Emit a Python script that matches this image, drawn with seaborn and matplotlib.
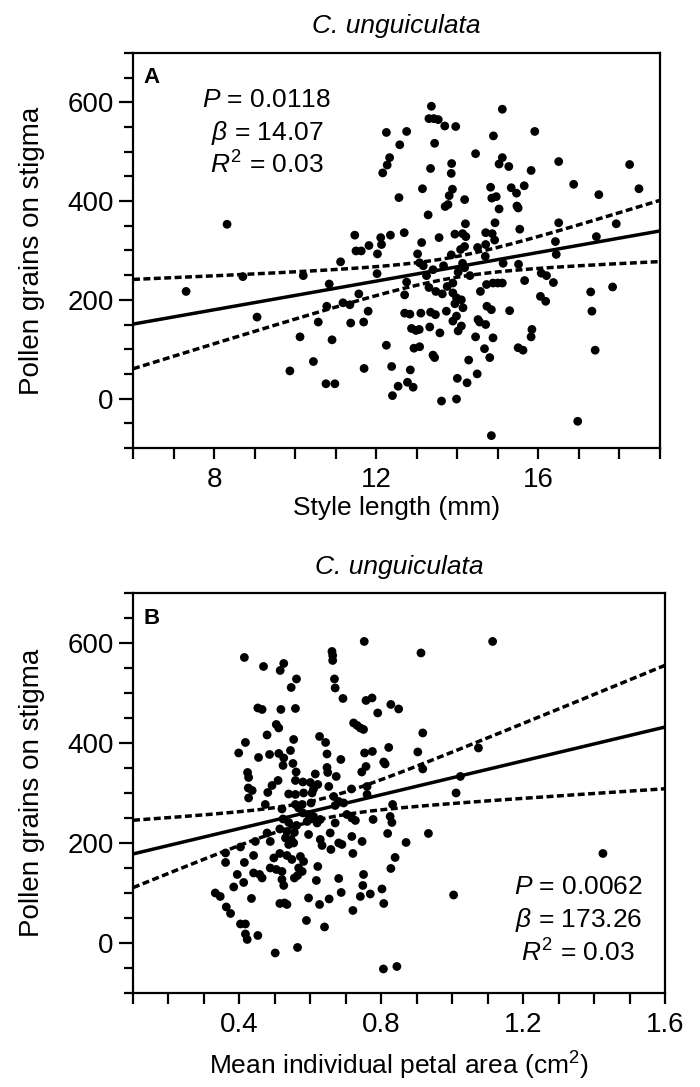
import numpy as np
import matplotlib.pyplot as plt
import seaborn as sns

# panel A: style length (mm) vs pollen grains on stigma
style_len = [13.36, 15.11, 13.30, 13.42, 13.53, 13.69, 13.96, 12.25, 12.75, 15.91,
             14.89, 12.58, 13.44, 14.45, 12.33, 12.27, 12.16, 13.34, 13.86, 13.85,
             15.11, 15.03, 15.27, 16.50, 15.82, 16.87, 13.14, 13.88, 13.80, 14.82,
             15.33, 15.46, 15.65, 12.56, 14.18, 14.85, 14.96, 13.77, 13.70, 15.03,
             15.47, 15.50, 13.28, 14.20, 14.93, 15.54, 16.50, 11.47, 12.11, 12.13,
             12.35, 12.69, 13.55, 13.94, 14.13, 14.21, 14.70, 14.86, 14.92, 13.12,
             11.50, 11.63, 11.82, 12.03, 13.02, 14.18, 14.08, 14.50, 14.70, 16.42,
             13.85, 14.69, 16.44, 11.12, 10.20, 12.02, 13.07, 13.16, 13.40, 13.66,
             14.13, 14.18, 15.13, 15.51, 10.84, 12.75, 13.24, 14.02, 14.31, 13.89,
             13.75, 14.57, 14.72, 14.88, 15.00, 15.11, 15.66, 16.07, 16.20, 16.05,
             16.18, 13.30, 13.47, 13.63, 11.57, 10.78, 11.18, 11.35, 11.80, 12.70,
             13.89, 13.98, 14.10, 13.94, 14.14, 10.57, 11.37, 11.69, 12.70, 12.83,
             13.10, 13.34, 13.46, 13.73, 13.98, 13.89, 14.10, 14.02, 14.73, 14.84,
             14.51, 14.55, 14.70, 15.29, 10.12, 10.91, 12.87, 12.98, 13.06, 13.32,
             13.57, 14.45, 14.88, 15.84, 15.82, 12.25, 12.93, 13.07, 14.67, 15.50,
             15.62, 13.40, 13.44, 14.80, 10.45, 14.28, 11.70, 12.38, 12.84, 9.87,
             14.49, 14.00, 14.24, 10.76, 10.98, 12.54, 12.77, 12.91, 12.40, 13.61,
             13.98, 14.84, 17.92, 17.43, 16.37, 17.29, 17.83, 17.32, 17.40, 16.97,
             18.25, 18.48, 17.49, 8.32, 7.31, 8.71, 9.06]
pollen_a = [592, 586, 567, 567, 565, 552, 551, 539, 541, 541,
            532, 514, 517, 496, 488, 473, 457, 466, 476, 456,
            488, 475, 470, 480, 462, 434, 425, 424, 411, 428,
            427, 416, 431, 407, 403, 406, 409, 393, 389, 384,
            390, 386, 372, 354, 356, 343, 356, 331, 326, 312,
            331, 336, 326, 333, 334, 328, 336, 334, 321, 316,
            299, 299, 310, 293, 293, 308, 302, 306, 312, 318,
            291, 288, 292, 277, 249, 253, 275, 269, 261, 269,
            274, 265, 274, 272, 232, 236, 249, 256, 249, 234,
            227, 217, 231, 234, 234, 234, 239, 254, 249, 207,
            197, 225, 217, 212, 212, 187, 194, 190, 177, 210,
            214, 204, 200, 192, 184, 155, 153, 155, 173, 171,
            173, 175, 170, 177, 167, 157, 147, 137, 187, 180,
            160, 155, 150, 178, 125, 119, 142, 138, 140, 145,
            133, 125, 123, 140, 125, 108, 102, 105, 101, 103,
            98, 88, 83, 83, 75, 78, 61, 65, 58, 56,
            50, 41, 32, 30, 30, 25, 33, 23, 6, -5,
            -1, -75, 354, 328, 235, 216, 226, 177, 98, -46,
            474, 425, 413, 353, 217, 247, 165]

# panel B: mean individual petal area (cm2) vs pollen grains on stigma
petal_area = [0.752, 0.912, 0.414, 0.468, 0.525, 0.515, 0.661, 0.663, 0.663, 0.561,
              0.546, 0.668, 0.670, 0.692, 0.757, 0.774, 0.827, 0.849, 0.790, 0.452,
              0.464, 0.517, 0.558, 0.722, 0.732, 0.741, 0.750, 0.504, 0.511, 0.478,
              0.917, 0.417, 0.398, 0.553, 0.626, 0.643, 0.454, 0.485, 0.511, 0.525,
              0.523, 0.544, 0.551, 0.647, 0.686, 0.753, 0.775, 0.821, 0.807, 0.811,
              0.903, 0.917, 0.423, 0.426, 0.509, 0.560, 0.558, 0.579, 0.614, 0.647,
              0.649, 0.673, 0.757, 0.745, 0.492, 0.425, 0.436, 0.480, 0.539, 0.558,
              0.600, 0.609, 0.621, 0.652, 0.716, 0.760, 1.011, 0.581, 0.605, 1.114,
              1.074, 1.023, 0.426, 0.473, 0.520, 0.558, 0.577, 0.567, 0.602, 0.666,
              0.680, 0.694, 0.670, 0.760, 0.832, 0.595, 0.609, 0.628, 0.619, 0.523,
              0.539, 0.561, 0.514, 0.534, 0.555, 0.530, 0.546, 0.539, 0.553, 0.579,
              0.591, 0.670, 0.703, 0.717, 0.727, 0.777, 0.825, 0.830, 0.478, 0.487,
              0.445, 0.403, 0.361, 0.595, 0.656, 0.628, 0.633, 0.658, 0.680, 0.689,
              0.717, 0.746, 0.818, 0.870, 0.933, 0.720, 0.361, 0.414, 0.440, 0.497,
              0.514, 0.534, 0.548, 0.572, 0.581, 0.567, 0.577, 0.487, 0.504, 0.520,
              0.621, 0.839, 0.827, 0.394, 0.440, 0.457, 0.464, 0.412, 0.384, 0.520,
              0.525, 0.555, 0.564, 0.617, 0.680, 0.750, 0.748, 0.802, 0.332, 0.346,
              0.687, 0.741, 0.769, 0.434, 0.595, 0.653, 0.807, 0.514, 0.527, 0.534,
              0.626, 0.363, 0.375, 0.720, 0.589, 0.403, 0.417, 0.640, 0.417, 0.422,
              0.452, 0.564, 0.501, 1.004, 0.806, 0.844, 1.425]
pollen_b = [603, 580, 571, 553, 559, 545, 583, 575, 565, 528,
            511, 528, 510, 489, 485, 490, 477, 468, 460, 470,
            467, 467, 469, 440, 435, 430, 427, 437, 430, 416,
            420, 401, 380, 407, 413, 401, 371, 377, 379, 370,
            355, 385, 359, 378, 367, 380, 383, 391, 362, 358,
            382, 348, 341, 331, 325, 342, 325, 322, 338, 351,
            341, 333, 353, 342, 315, 310, 305, 301, 298, 297,
            321, 308, 317, 313, 308, 313, 300, 300, 300, 603,
            390, 333, 290, 277, 268, 277, 277, 270, 280, 293,
            283, 280, 275, 297, 277, 257, 253, 247, 240, 248,
            241, 235, 228, 223, 221, 210, 207, 197, 200, 260,
            243, 240, 257, 250, 245, 247, 253, 241, 220, 203,
            203, 192, 180, 217, 220, 207, 195, 187, 200, 197,
            213, 203, 219, 201, 219, 179, 161, 161, 175, 170,
            179, 175, 167, 173, 163, 150, 143, 150, 147, 143,
            153, 171, 149, 137, 140, 137, 130, 121, 112, 127,
            115, 130, 135, 125, 129, 137, 115, 108, 100, 93,
            101, 93, 98, 89, 90, 88, 79, 79, 80, 77,
            77, 72, 59, 65, 45, 38, 38, 32, 18, 7,
            15, -9, -20, 96, -52, -47, 179]

stats_a = ["$P$ = 0.0118", r"$\beta$ = 14.07", "$R^2$ = 0.03"]
stats_b = ["$P$ = 0.0062", r"$\beta$ = 173.26", "$R^2$ = 0.03"]


def fit_with_ci(x, y, grid):
    x = np.asarray(x, float)
    y = np.asarray(y, float)
    n = len(x)
    b, a = np.polyfit(x, y, 1)
    yhat = a + b * grid
    s = np.sqrt(np.sum((y - (a + b * x)) ** 2) / (n - 2))
    sxx = np.sum((x - x.mean()) ** 2)
    half = 1.97 * s * np.sqrt(1 / n + (grid - x.mean()) ** 2 / sxx)
    return yhat, yhat - half, yhat + half


sns.set_style("ticks")
plt.rcParams['font.family'] = ['Liberation Sans', 'DejaVu Sans']
plt.rcParams['mathtext.fontset'] = 'custom'
plt.rcParams['mathtext.rm'] = 'Liberation Sans'
plt.rcParams['mathtext.it'] = 'Liberation Sans:italic'
for key in ['text.color', 'axes.labelcolor', 'xtick.color', 'ytick.color',
            'xtick.labelcolor', 'ytick.labelcolor', 'axes.edgecolor']:
    plt.rcParams[key] = 'black'

fig = plt.figure(figsize=(7, 10.87), dpi=100)
ax1 = fig.add_axes([0.19, 0.5879, 0.7529, 0.3634])
ax2 = fig.add_axes([0.19, 0.0865, 0.76, 0.368])

panels = [
    (ax1, style_len, pollen_a, (6, 19), [8, 12, 16], np.arange(6, 20, 1),
     "Style length (mm)", "A", stats_a, 0.254, [0.881, 0.797, 0.716], 2),
    (ax2, petal_area, pollen_b, (0.1, 1.6), [0.4, 0.8, 1.2, 1.6], np.arange(0.1, 1.65, 0.1),
     "Mean individual petal area (cm$^2$)", "B", stats_b, 0.837, [0.266, 0.1825, 0.099], 8),
]

for ax, xs, ys, xlim, xmaj, xmin, xlab, letter, stats, sx, sy, xpad in panels:
    sns.scatterplot(x=xs, y=ys, s=40, color="black", edgecolor="none", ax=ax, zorder=3)

    grid = np.linspace(xlim[0], xlim[1], 200)
    yhat, lo, hi = fit_with_ci(xs, ys, grid)
    ax.plot(grid, yhat, color="black", lw=2.5, zorder=4)
    for band in (lo, hi):
        ax.plot(grid, band, color="black", lw=2.5, dashes=(2.0, 1.0), zorder=4)

    ax.set_xlim(*xlim)
    ax.set_ylim(-100, 700)
    ax.set_xticks(xmaj)
    ax.set_xticklabels([("%g" % v) for v in xmaj])
    ax.set_xticks(xmin, minor=True)
    ax.set_yticks([0, 200, 400, 600])
    ax.set_yticks(np.arange(-100, 701, 50), minor=True)

    for side in ["left", "right", "top", "bottom"]:
        ax.spines[side].set_visible(True)
        ax.spines[side].set_linewidth(1.6)
        ax.spines[side].set_color("black")

    ax.tick_params(axis="y", which="major", length=10, width=1.6, labelsize=20, pad=4)
    ax.tick_params(axis="y", which="minor", length=6.5, width=1.6)
    ax.tick_params(axis="x", which="both", length=8, width=1.6, labelsize=20, pad=6)

    ax.set_xlabel(xlab, fontsize=19, labelpad=xpad)
    ax.set_ylabel("Pollen grains on stigma", fontsize=20, labelpad=16)
    ax.set_title("C. unguiculata", fontsize=19, style="italic", pad=14)

    ax.text(0.035, 0.937, letter, transform=ax.transAxes, fontsize=16, fontweight="bold",
            ha="center", va="center", family=["Liberation Sans Narrow", "Liberation Sans"])
    for line, yy in zip(stats, sy):
        ax.text(sx, yy, line, transform=ax.transAxes, fontsize=19, ha="center", va="center")

fig.savefig("out.png", dpi=100)
